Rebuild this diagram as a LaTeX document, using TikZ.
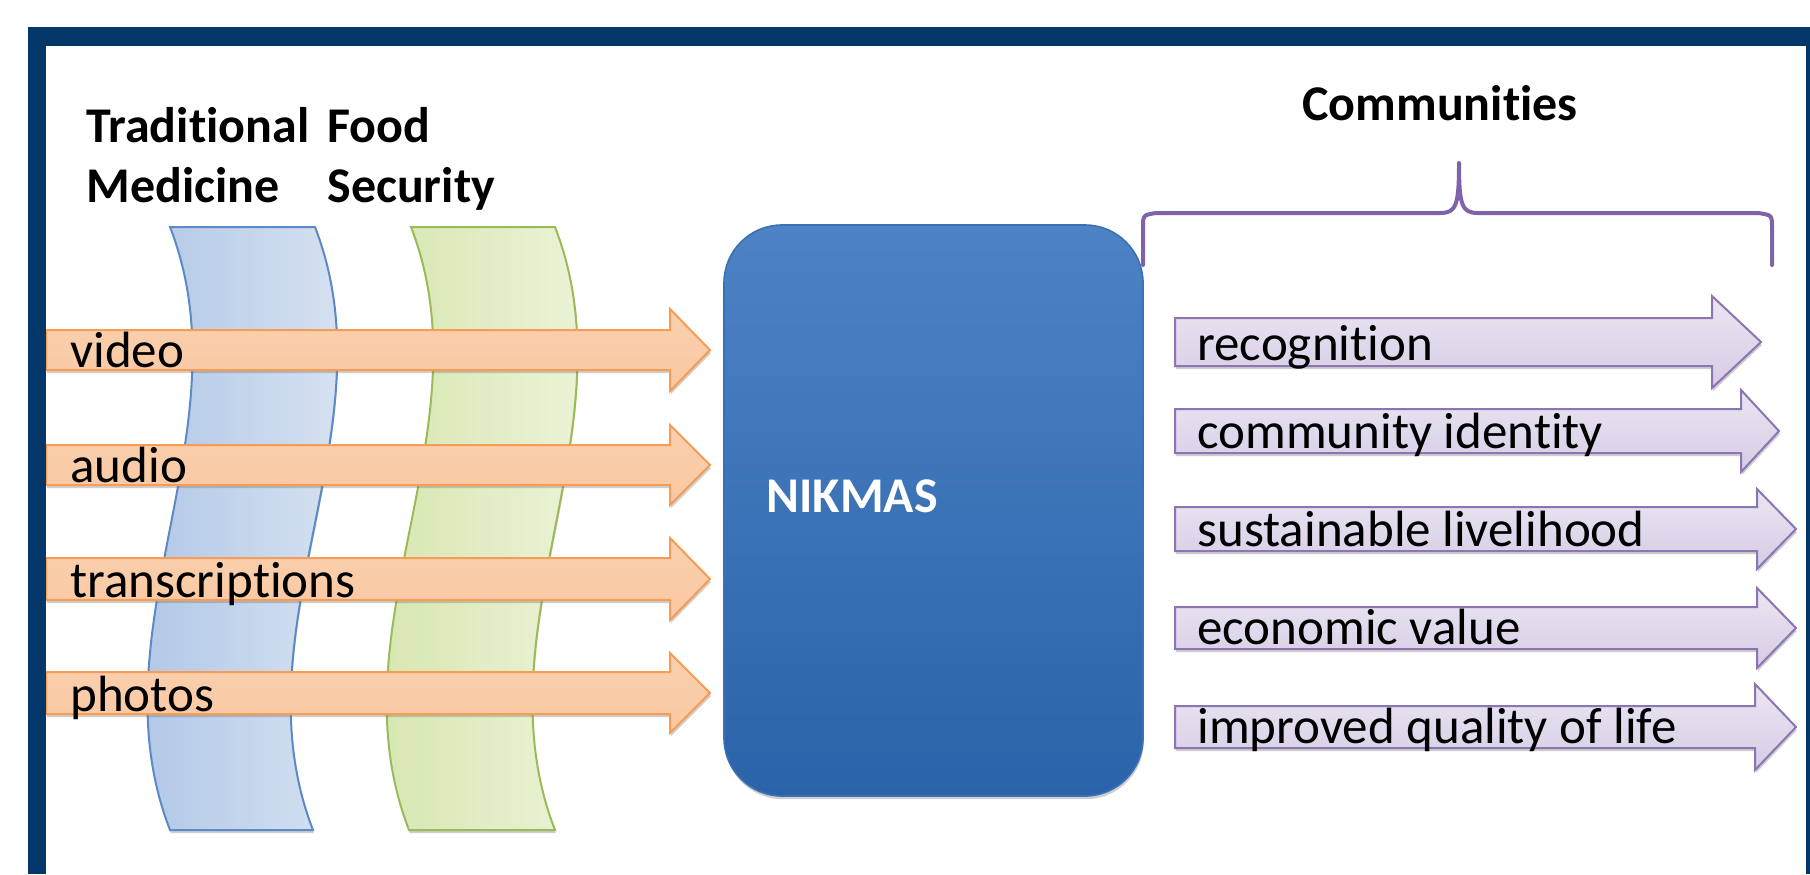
\documentclass[tikz,border=0pt]{standalone}
\usepackage{fontspec}
\setmainfont{Carlito}[RawFeature={-liga;-clig;-calt;-dlig}]
\usetikzlibrary{shadows}

\definecolor{framenavy}{HTML}{033769}
\definecolor{blueband}{HTML}{5B8AC6}
\definecolor{bluebandL}{HTML}{A9C2E4}
\definecolor{bluebandR}{HTML}{DFE8F4}
\definecolor{greenband}{HTML}{9BBB59}
\definecolor{greenbandL}{HTML}{D2E4A8}
\definecolor{greenbandR}{HTML}{F0F6E0}
\definecolor{orangeline}{HTML}{F69C55}
\definecolor{orangeT}{HTML}{FAD0AF}
\definecolor{orangeM}{HTML}{FDE2CD}
\definecolor{orangeB}{HTML}{FAC8A2}
\definecolor{purpleline}{HTML}{8D75B3}
\definecolor{purpleT}{HTML}{EBE6F2}
\definecolor{purpleB}{HTML}{D6CCE5}
\definecolor{bracecol}{HTML}{7F63A8}
\definecolor{boxT}{HTML}{4D83C5}
\definecolor{boxB}{HTML}{2A63A9}
\definecolor{boxline}{HTML}{3B70B4}

% block arrow: style, left x, centre y, head base x, tip x, half body, half head
\newcommand\blockarrow[7]{%
  \path[#1] (#2,#3-#6) -- (#4,#3-#6) -- (#4,#3-#7) -- (#5,#3)
    -- (#4,#3+#7) -- (#4,#3+#6) -- (#2,#3+#6) -- cycle;}
% keeps "t" and "i" as separate glyphs
\newcommand\tisep{t\kern0pt i}

\begin{document}
\begin{tikzpicture}[x=0.5pt,y=-0.5pt,
  softshadow/.style={drop shadow={shadow xshift=0.4pt,shadow yshift=-1.6pt,opacity=0.35,fill=black!55}},
  bandb/.style={draw=blueband,line width=1pt,left color=bluebandL,right color=bluebandR,softshadow},
  bandg/.style={draw=greenband,line width=1pt,left color=greenbandL,right color=greenbandR,softshadow},
  inarrow/.style={draw=orangeline,line width=1pt,top color=orangeT,middle color=orangeM,bottom color=orangeB,softshadow},
  outarrow/.style={draw=purpleline,line width=1pt,top color=purpleT,bottom color=purpleB,softshadow},
  head/.style={font=\fontsize{25}{30}\selectfont\bfseries,inner sep=0pt,anchor=base west},
  label/.style={font=\fontsize{25.5}{30}\selectfont,inner sep=0pt,anchor=base west},
  hub/.style={rectangle,rounded corners=29pt,draw=boxline,line width=0.8pt,top color=boxT,bottom color=boxB,
    minimum width=209.5pt,minimum height=285.5pt,inner sep=0pt,softshadow},
  bracestyle/.style={draw=bracecol,line width=2pt,line cap=round,line join=round}]

\useasboundingbox (0,0) rectangle (1810,874);
\fill[white] (0,0) rectangle (1810,874);

% headings
\node[head] (trad) at (86,142) {Tradi\tisep onal};
\node[head] (med)  at (86,202) {Medicine};
\node[head] (food) at (327,142) {Food};
\node[head] (sec)  at (327,202) {Security};
\node[head] (comm) at (1302,120) {Communi\tisep es};

% wavy theme bands
\path[bandb] (170,227) .. controls (248,428) and (92,629) .. (170,830)
  -- (313,830) .. controls (235,629) and (393,428) .. (315,227) -- cycle;
\path[bandg] (411,227) .. controls (489,428) and (331,629) .. (409,830)
  -- (555,830) .. controls (477,629) and (633,428) .. (555,227) -- cycle;

% incoming media arrows
\blockarrow{inarrow}{46}{350}{670}{710}{20}{41}
\blockarrow{inarrow}{46}{465}{670}{710}{20}{40}
\blockarrow{inarrow}{46}{579}{670}{710}{21}{41}
\blockarrow{inarrow}{46}{693}{670}{710}{21}{40}
\node[label] (video)  at (70,367) {video};
\node[label] (audio)  at (70,482) {audio};
\node[label] (transc) at (70,597) {transcrip\tisep ons};
\node[label] (photos) at (70,711) {photos};

% central system
\node[hub] (nikmas) at (933.5,510.5) {};
\node[font=\fontsize{25}{30}\selectfont\bfseries,text=white,inner sep=0pt,anchor=base west] (nikmaslabel) at (766,512) {NIKMAS};

% community brace
\draw[bracestyle] (1143,265) -- (1143,228) .. controls (1143,215) .. (1156,213)
  -- (1440,213) .. controls (1456,213) and (1459,206) .. (1459,163)
  .. controls (1459,206) and (1462,213) .. (1478,213)
  -- (1758,213) .. controls (1772,215) .. (1772,228) -- (1772,265);

% outcome arrows
\blockarrow{outarrow}{1175}{342}{1712}{1761}{24}{46}
\blockarrow{outarrow}{1175}{431}{1741}{1779}{22}{41}
\blockarrow{outarrow}{1175}{529}{1757}{1796}{22}{40}
\blockarrow{outarrow}{1175}{628}{1757}{1796}{21}{40}
\blockarrow{outarrow}{1175}{727}{1755}{1796}{21}{43}
\node[label] (rec) at (1197,360) {recognition};
\node[label] (cid) at (1197,448) {community identity};
\node[label] (sus) at (1197,546) {sustainable livelihood};
\node[label] (eco) at (1197,644) {economic value};
\node[label] (imp) at (1197,743) {improved quality of life};

% navy frame
\fill[framenavy] (28,27) rectangle (1810,46);
\fill[framenavy] (28,27) rectangle (46,874);
\fill[framenavy] (1806,27) rectangle (1810,874);
\end{tikzpicture}
\end{document}
